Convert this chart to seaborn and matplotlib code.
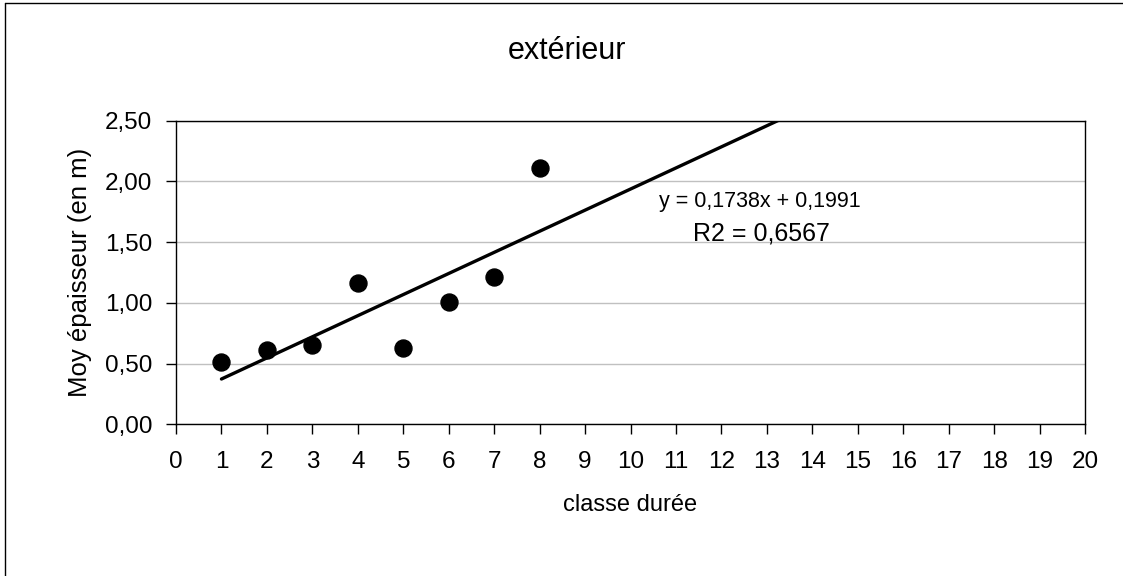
import numpy as np
import pandas as pd
import matplotlib
matplotlib.use("Agg")
import matplotlib.pyplot as plt
import seaborn as sns
from matplotlib.lines import Line2D
from matplotlib.ticker import FuncFormatter

# data
classe = [1, 2, 3, 4, 5, 6, 7, 8]
epaisseur = [0.51, 0.61, 0.65, 1.16, 0.63, 1.01, 1.21, 2.11]
slope = 0.1738
intercept = 0.1991
r2 = 0.6567
trend_x = [1, 20]
x_ticks = list(range(0, 21))
y_ticks = [0.0, 0.5, 1.0, 1.5, 2.0, 2.5]

sns.set_theme(style="white")
plt.rcParams['font.family'] = ['Liberation Sans', 'DejaVu Sans']

fig = plt.figure(figsize=(11.23, 5.76), dpi=100)
ax = fig.add_axes([176/1123, (576-424.3)/576, (1085-176)/1123, (424.3-120.7)/576])

df = pd.DataFrame({"x": classe, "y": epaisseur})
trend = pd.DataFrame({"x": trend_x, "y": [slope * v + intercept for v in trend_x]})

sns.lineplot(data=trend, x="x", y="y", ax=ax, color="black", linewidth=2.4, zorder=3)
sns.scatterplot(data=df, x="x", y="y", ax=ax, color="black", s=150, edgecolor="black", zorder=4)

ax.set_xlim(0, 20)
ax.set_ylim(0, 2.5)
ax.set_xticks(x_ticks)
ax.set_yticks(y_ticks)
ax.yaxis.set_major_formatter(FuncFormatter(lambda v, p: f"{v:.2f}".replace(".", ",")))
ax.grid(axis="y", color="#c0c0c0", linewidth=1)
ax.set_axisbelow(True)
for s in ax.spines.values():
    s.set_color("black")
    s.set_linewidth(1)
ax.tick_params(axis="both", direction="out", length=7, width=1, color="black",
               labelsize=17.5, labelcolor="black", bottom=True, left=True)
ax.tick_params(axis="x", pad=12)
ax.tick_params(axis="y", pad=10)

ax.set_xlabel("")
ax.set_ylabel("")
fig.text(630/1123, 1 - 505/576, "classe durée", fontsize=17, ha="center", va="center", color="black")
fig.text(80/1123, 1 - 272/576, "Moy épaisseur (en m)", fontsize=18.5, rotation=90,
         ha="center", va="center", color="black")

fig.text(567/1123, 1 - 51/576, "extérieur", fontsize=22, ha="center", va="center", color="black")
fig.text(760/1123, 1 - 202/576, "y = 0,1738x + 0,1991", fontsize=15.5,
         ha="center", va="center", color="black")
fig.text(761/1123, 1 - 233/576, f"R2 = {r2:.4f}".replace(".", ","), fontsize=18,
         ha="center", va="center", color="black")

# outer frame (top and left visible)
fig.add_artist(Line2D([5/1123, 5/1123], [0, 1 - 3/576], transform=fig.transFigure, color="black", linewidth=1))
fig.add_artist(Line2D([5/1123, 1], [1 - 3/576, 1 - 3/576], transform=fig.transFigure, color="black", linewidth=1))

fig.savefig("out.png", dpi=100)
